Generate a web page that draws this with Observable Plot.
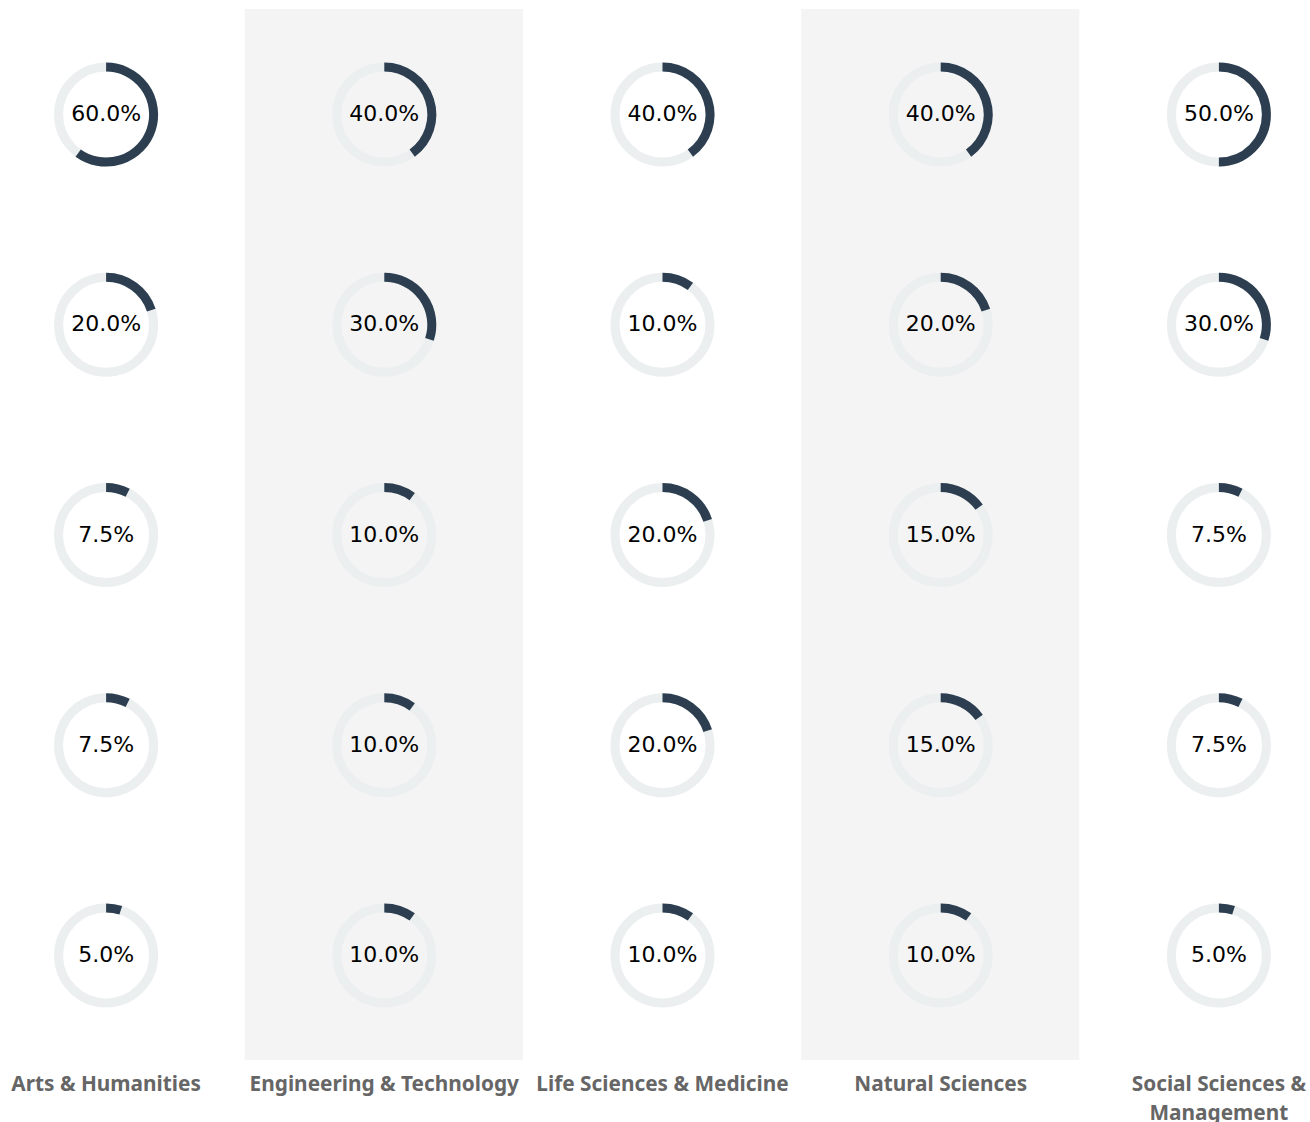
<!DOCTYPE html>
<html>
<head>
<meta charset="utf-8">
<script src="https://cdn.jsdelivr.net/npm/d3@7"></script>
<script src="https://cdn.jsdelivr.net/npm/@observablehq/plot@0.6"></script>
<style>
  html, body { margin: 0; padding: 0; background: #fff; overflow: hidden; }
  #chart svg { display: block; }
  #chart g[aria-label="x-axis tick label"] text { font-weight: bold; }
</style>
</head>
<body>
<div id="chart"></div>
<script>
const categories = [
  "Arts & Humanities",
  "Engineering & Technology",
  "Life Sciences & Medicine",
  "Natural Sciences",
  "Social Sciences & Management"
];
const rows = ["r1", "r2", "r3", "r4", "r5"];
// share (%) per row, one array per category
const artsHumanities = [60, 20, 7.5, 7.5, 5];
const engineeringTechnology = [40, 30, 10, 10, 10];
const lifeSciencesMedicine = [40, 10, 20, 20, 10];
const naturalSciences = [40, 20, 15, 15, 10];
const socialSciencesManagement = [50, 30, 7.5, 7.5, 5];
const shadedCategories = ["Engineering & Technology", "Natural Sciences"];

const seriesByCategory = [artsHumanities, engineeringTechnology, lifeSciencesMedicine, naturalSciences, socialSciencesManagement];
const data = [];
categories.forEach((c, i) => rows.forEach((r, j) => data.push({cat: c, row: r, value: seriesByCategory[i][j]})));

// custom symbol: arc from 12 o'clock, clockwise, proportional to value
function arcSymbol(pct) {
  return {
    draw(ctx, size) {
      const r = Math.sqrt(size / Math.PI);
      const a0 = -Math.PI / 2, a1 = a0 + 2 * Math.PI * pct / 100;
      ctx.moveTo(r * Math.cos(a0), r * Math.sin(a0));
      ctx.arc(0, 0, r, a0, a1);
    }
  };
}

const wrap = {"Social Sciences & Management": "Social Sciences &\nManagement"};

const chart = Plot.plot({
  width: 1310,
  height: 1130,
  marginTop: 9,
  marginBottom: 70,
  marginLeft: 0,
  marginRight: 0,
  style: {fontFamily: "DejaVu Sans", background: "#fff"},
  x: {type: "band", domain: categories, range: [-33.5, 1357.5], padding: 0, round: false},
  y: {type: "band", domain: rows, padding: 0, round: false, axis: null},
  marks: [
    Plot.cell(shadedCategories, {x: d => d, fill: "#f4f4f4"}),
    Plot.dot(data, {x: "cat", y: "row", r: 47.5, stroke: "#ebeff0", strokeWidth: 9, fill: "none"}),
    Plot.dot(data, {x: "cat", y: "row", r: 47.5, symbol: d => arcSymbol(d.value), stroke: "#2c3e50", strokeWidth: 9, fill: "none", strokeLinecap: "butt"}),
    Plot.text(data, {x: "cat", y: "row", dy: -0.5, text: d => d.value.toFixed(1) + "%", fontSize: 22, fill: "#000", fontFamily: "DejaVu Sans"}),
    Plot.axisX({anchor: "bottom", tickSize: 0, tickPadding: 10, fontSize: 20.8, fill: "#666", fontFamily: "Noto Sans", label: null, lineHeight: 1.38, tickFormat: d => wrap[d] || d})
  ]
});
document.getElementById("chart").appendChild(chart);
</script>
</body>
</html>
